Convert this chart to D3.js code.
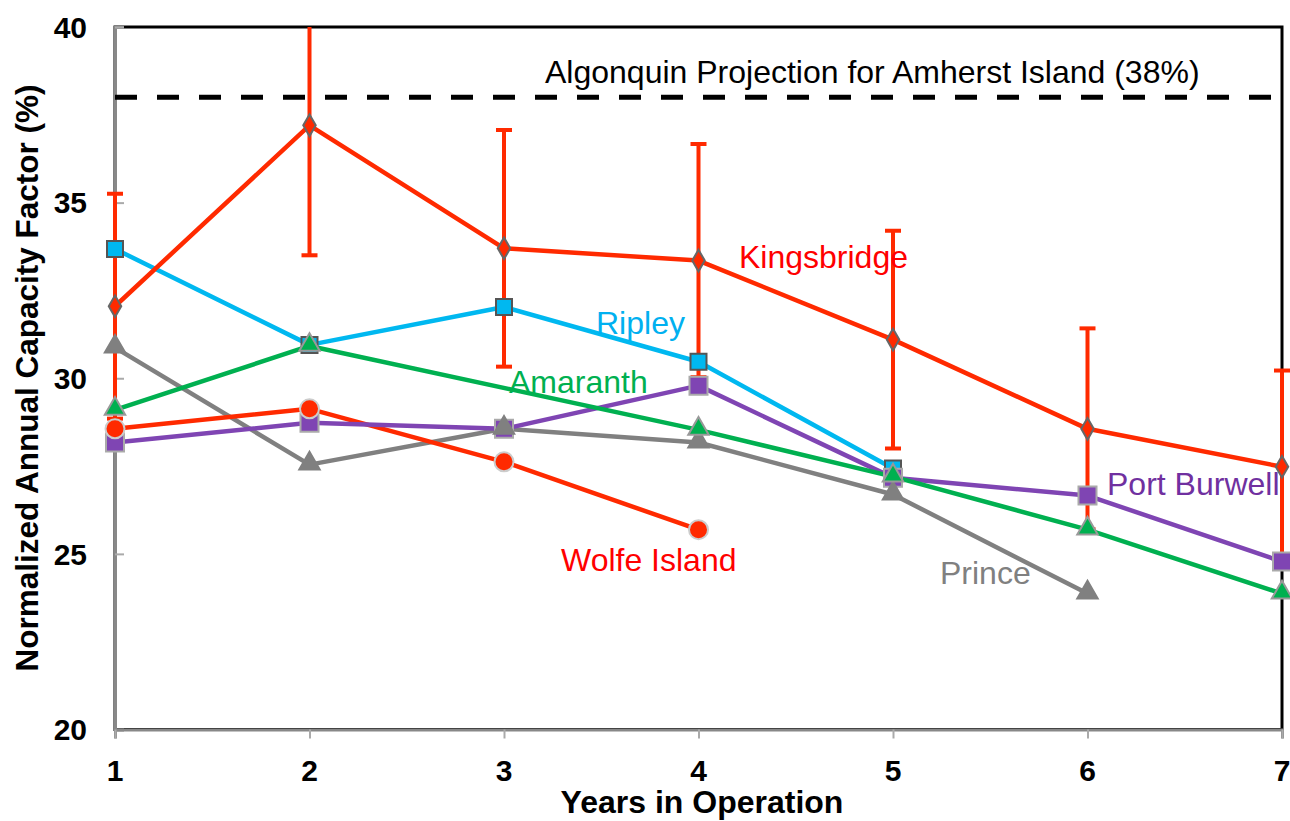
<!DOCTYPE html>
<html>
<head>
<meta charset="utf-8">
<script src="https://cdn.jsdelivr.net/npm/d3@7"></script>
<style>
  html, body { margin: 0; padding: 0; background: #fff; }
  svg { display: block; font-family: "Liberation Sans", Arial, sans-serif; }
</style>
</head>
<body>
<svg id="chart" width="1290" height="821"></svg>
<script>
// ---- data ----
const years = [1, 2, 3, 4, 5, 6, 7];
const yTicks = [20, 25, 30, 35, 40];
const kingsbridge = [32.05, 37.2, 33.7, 33.35, 31.1, 28.56, 27.48];
const kingsbridgeErr = [3.2, 3.7, 3.37, 3.32, 3.1, 2.86, 2.74];
const ripley = [33.68, 30.95, 32.03, 30.47, 27.43, null, null];
const amaranth = [29.1, 30.92, null, 28.53, 27.2, 25.69, 23.87];
const wolfeIsland = [28.56, 29.13, 27.62, 25.69, null, null, null];
const portBurwell = [28.17, 28.73, 28.56, 29.79, 27.17, 26.66, 24.78];
const prince = [30.87, 27.54, 28.56, 28.17, 26.69, 23.87, null];
const projection = 38;
const projectionLabel = "Algonquin Projection for Amherst Island (38%)";

const series = [
  {name: "Kingsbridge", values: kingsbridge, color: "#ff2a00", text: "#ff0000", marker: "diamond", size: 13, fill: "#ff2a00", stroke: "#666", lx: 739, ly: 268},
  {name: "Ripley", values: ripley, color: "#00b8f0", text: "#00b0f0", marker: "square", size: 16, fill: "#00b8f0", stroke: "#555", lx: 596, ly: 334},
  {name: "Port Burwell", values: portBurwell, color: "#7f45b3", text: "#7030a0", marker: "square", size: 18, fill: "#7f45b3", stroke: "#aaa", lx: 1107, ly: 495},
  {name: "Prince", values: prince, color: "#808080", text: "#808080", marker: "triangle", size: 19, fill: "#808080", stroke: "#808080", lx: 940, ly: 584},
  {name: "Wolfe Island", values: wolfeIsland, color: "#ff2a00", text: "#ff0000", marker: "circle", size: 19, fill: "#ff2a00", stroke: "#ccc", lx: 561, ly: 571},
  {name: "Amaranth", values: amaranth, color: "#00b050", text: "#00b050", marker: "triangle", size: 19, fill: "#00b050", stroke: "#999", lx: 509, ly: 393}
];

// ---- layout ----
const svg = d3.select("#chart");
const x = d3.scaleLinear().domain([1, 7]).range([115, 1282]);
const y = d3.scaleLinear().domain([20, 40]).range([729.5, 27]);

svg.append("defs").append("clipPath").attr("id", "plotclip")
  .append("rect").attr("x", 100).attr("y", y(40)).attr("width", 1200).attr("height", y(20) - y(40));

// frame
svg.append("rect").attr("x", x(1)).attr("y", y(40)).attr("width", x(7) - x(1)).attr("height", y(20) - y(40))
  .attr("fill", "none").attr("stroke", "#000").attr("stroke-width", 3);

// y axis (ticks inward)
const yAxis = d3.axisRight(y).tickValues(yTicks).tickSize(9).tickFormat("");
const gy = svg.append("g").attr("transform", `translate(${x(1)},0)`).call(yAxis);
gy.select(".domain").attr("stroke", "#888").attr("stroke-width", 3);
gy.selectAll(".tick line").attr("stroke", "#aaa").attr("stroke-width", 2);
svg.selectAll(".ylab").data(yTicks).enter().append("text")
  .attr("x", 87).attr("y", d => y(d)).attr("dy", "0.36em")
  .attr("text-anchor", "end").attr("font-weight", "bold").attr("font-size", 30).text(d => d);

// x axis
const xAxis = d3.axisBottom(x).tickValues(years).tickSize(9).tickFormat("");
const gx = svg.append("g").attr("transform", `translate(0,${y(20)})`).call(xAxis);
gx.select(".domain").attr("stroke", "#888").attr("stroke-width", 3);
gx.selectAll(".tick line").attr("stroke", "#aaa").attr("stroke-width", 2);
svg.selectAll(".xlab").data(years).enter().append("text")
  .attr("x", d => x(d)).attr("y", 781)
  .attr("text-anchor", "middle").attr("font-weight", "bold").attr("font-size", 30).text(d => d);

// axis titles
svg.append("text").attr("x", 702).attr("y", 813).attr("text-anchor", "middle")
  .attr("font-weight", "bold").attr("font-size", 32).text("Years in Operation");
svg.append("text").attr("transform", "translate(38,378) rotate(-90)").attr("text-anchor", "middle")
  .attr("font-weight", "bold").attr("font-size", 31.5).text("Normalized Annual Capacity Factor (%)");

// projection line
svg.append("line").attr("x1", x(1)).attr("x2", x(7)).attr("y1", y(projection)).attr("y2", y(projection))
  .attr("stroke", "#000").attr("stroke-width", 5).attr("stroke-dasharray", "22,20");
svg.append("text").attr("x", 545).attr("y", 83).attr("font-size", 32).attr("fill", "#000").text(projectionLabel);

// error bars for Kingsbridge
const eb = svg.append("g").attr("clip-path", "url(#plotclip)");
years.forEach((yr, i) => {
  const v = kingsbridge[i], e = kingsbridgeErr[i];
  const top = v + e, bot = v - e;
  eb.append("line").attr("x1", x(yr)).attr("x2", x(yr)).attr("y1", y(top)).attr("y2", y(bot))
    .attr("stroke", "#ff2a00").attr("stroke-width", 4);
  [top, bot].forEach(t => {
    eb.append("line").attr("x1", x(yr) - 8).attr("x2", x(yr) + 8).attr("y1", y(t)).attr("y2", y(t))
      .attr("stroke", "#ff2a00").attr("stroke-width", 4);
  });
});

// lines
const lineGen = d3.line().x(d => x(d.year)).y(d => y(d.value));
const seriesPts = series.map(s => ({...s, pts: years.map((yr, i) => ({year: yr, value: s.values[i]})).filter(d => d.value != null)}));
const lineOrder = ["Prince", "Wolfe Island", "Port Burwell", "Amaranth", "Ripley", "Kingsbridge"];
lineOrder.forEach(n => {
  const s = seriesPts.find(d => d.name === n);
  svg.append("path").attr("d", lineGen(s.pts)).attr("fill", "none")
    .attr("stroke", s.color).attr("stroke-width", 4.5).attr("stroke-linejoin", "round");
});

// markers
const symType = {diamond: d3.symbolDiamond, square: d3.symbolSquare, triangle: d3.symbolTriangle, circle: d3.symbolCircle};
seriesPts.forEach(s => {
  const sym = d3.symbol().type(symType[s.marker]).size(s.marker === "diamond" ? s.size * s.size * 0.8 : s.marker === "triangle" ? s.size * s.size * 0.5 : s.marker === "circle" ? Math.PI * (s.size / 2) * (s.size / 2) : s.size * s.size);
  svg.append("g").selectAll("path").data(s.pts).enter().append("path")
    .attr("d", sym)
    .attr("transform", d => `translate(${x(d.year)},${y(d.value) + (s.marker === "triangle" ? -1 : 0)})`)
    .attr("fill", s.fill).attr("stroke", s.stroke).attr("stroke-width", 2);
});

// series labels
seriesPts.forEach(s => {
  svg.append("text").attr("x", s.lx).attr("y", s.ly).attr("font-size", 32).attr("fill", s.text).text(s.name);
});
</script>
</body>
</html>
